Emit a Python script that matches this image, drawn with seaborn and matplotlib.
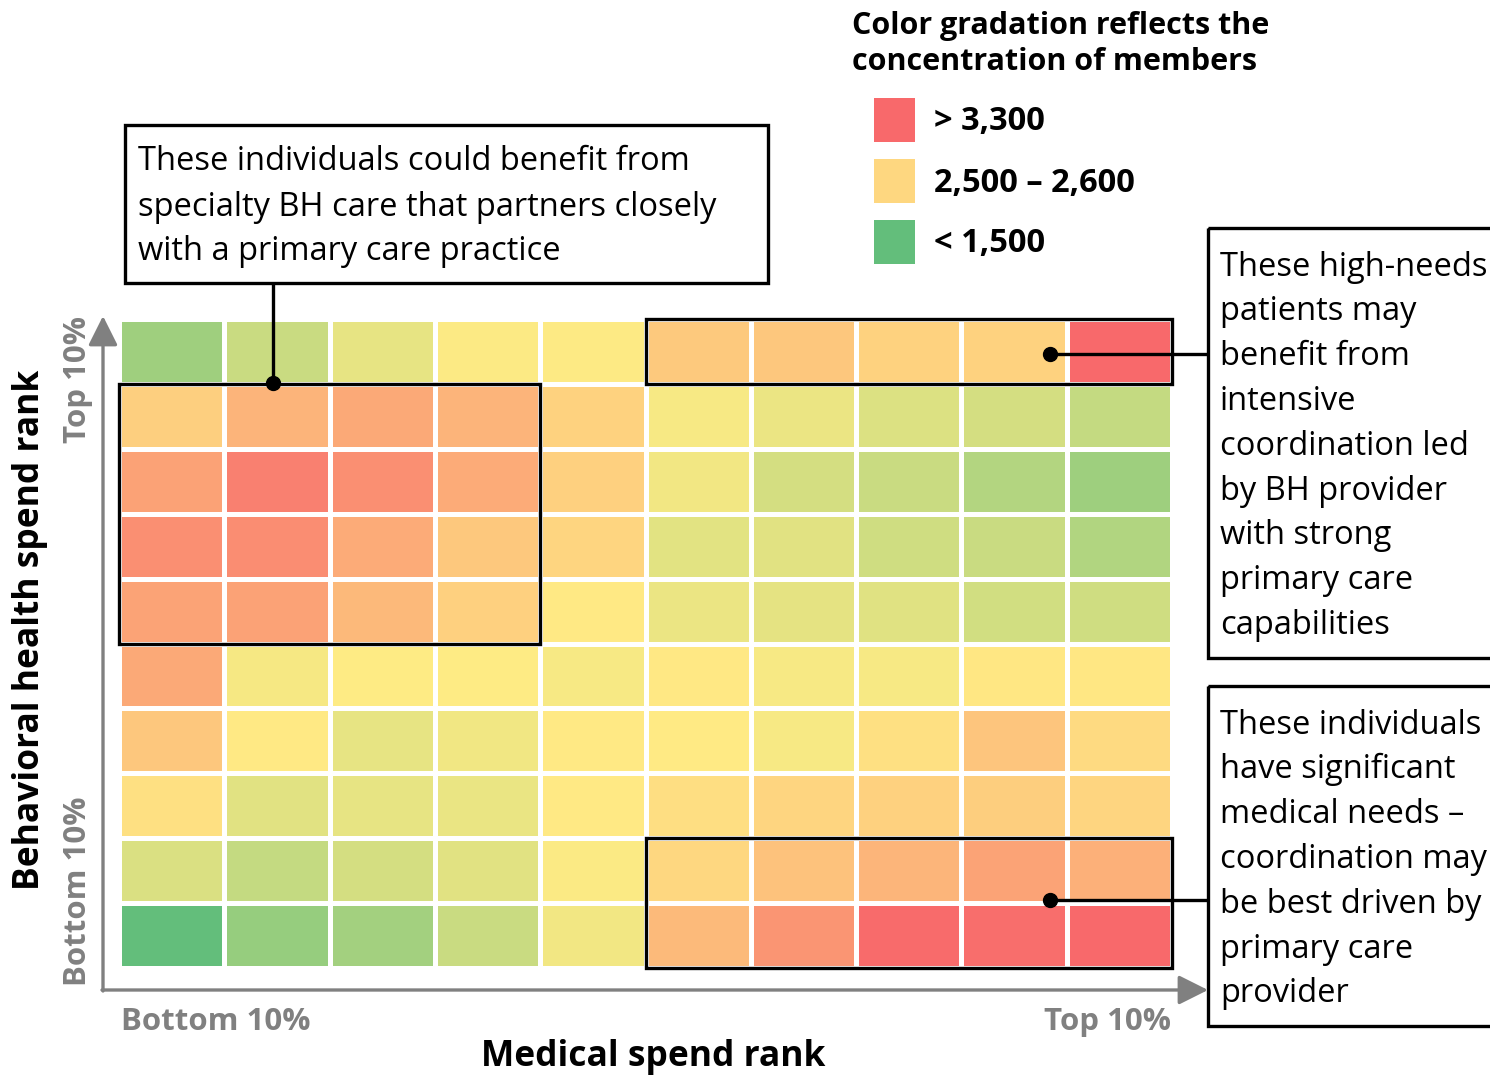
import numpy as np
import pandas as pd
import matplotlib
matplotlib.use("Agg")
import matplotlib.pyplot as plt
import seaborn as sns
from matplotlib.colors import LinearSegmentedColormap
from matplotlib.patches import Rectangle

# Member counts per cell: rows = behavioral health spend decile (top first),
# columns = medical spend decile (bottom first)
bh_deciles = ["Top 10%", "D9", "D8", "D7", "D6", "D5", "D4", "D3", "D2", "Bottom 10%"]
med_deciles = ["Bottom 10%", "D2", "D3", "D4", "D5", "D6", "D7", "D8", "D9", "Top 10%"]

row_top = [1790, 2050, 2250, 2380, 2390, 2660, 2680, 2590, 2590, 3400]
row_9 = [2615, 2820, 2900, 2820, 2590, 2350, 2270, 2180, 2120, 2020]
row_8 = [2960, 3215, 3110, 2890, 2610, 2320, 2120, 2050, 1910, 1780]
row_7 = [3110, 3120, 2890, 2670, 2570, 2220, 2210, 2090, 2050, 1900]
row_6 = [2950, 2955, 2790, 2610, 2410, 2270, 2230, 2200, 2110, 2090]
row_5 = [2900, 2340, 2395, 2395, 2350, 2420, 2350, 2350, 2430, 2430]
row_4 = [2680, 2410, 2250, 2310, 2410, 2400, 2350, 2485, 2690, 2530]
row_3 = [2480, 2210, 2250, 2260, 2410, 2500, 2570, 2600, 2620, 2570]
row_2 = [2160, 2020, 2120, 2210, 2370, 2550, 2720, 2810, 2950, 2850]
row_bottom = [1400, 1730, 1810, 2050, 2320, 2780, 3060, 3380, 3360, 3400]

legend_labels = ["> 3,300", "2,500 \u2013 2,600", "< 1,500"]
legend_values = [3400, 2550, 1400]

grid = pd.DataFrame(
    [row_top, row_9, row_8, row_7, row_6, row_5, row_4, row_3, row_2, row_bottom],
    index=bh_deciles, columns=med_deciles,
)

cmap = LinearSegmentedColormap.from_list(
    "gyr", [(0.0, "#63BE7B"), (0.5, "#FFEB84"), (1.0, "#F8696B")]
)
vmin, vmax = 1400, 3400

W, H = 1490, 1076
fig = plt.figure(figsize=(W / 100, H / 100), dpi=100)
fig.patch.set_facecolor("white")

font = "Open Sans"
GRAY = "#808080"


def fx(px):
    return px / W


def fy(py):
    return 1 - py / H


# heatmap area
hx0, hx1, hy0, hy1 = 119, 1172, 319, 968
ax = fig.add_axes([fx(hx0), fy(hy1), fx(hx1) - fx(hx0), fy(hy0) - fy(hy1)])
sns.heatmap(grid, ax=ax, cmap=cmap, vmin=vmin, vmax=vmax, cbar=False,
            linewidths=3.6, linecolor="white", square=False)
ax.set_xticks([])
ax.set_yticks([])
ax.set_xlabel("")
ax.set_ylabel("")
for s in ax.spines.values():
    s.set_visible(False)

# highlighted cell groups
box_kw = dict(fill=False, edgecolor="black", linewidth=2.4, clip_on=False, zorder=5)
ax.add_patch(Rectangle((0, 1), 4, 4, **box_kw))
ax.add_patch(Rectangle((5, 0), 5, 1, **box_kw))
ax.add_patch(Rectangle((5, 8), 5, 2, **box_kw))

# overlay in pixel coordinates for callouts, arrows and labels
ov = fig.add_axes([0, 0, 1, 1])
ov.set_xlim(0, W)
ov.set_ylim(H, 0)
ov.axis("off")
ov.patch.set_alpha(0)

# axis arrows
arrow_kw = dict(arrowstyle="-|>,head_length=0.9,head_width=0.45", color=GRAY,
                lw=2.4, mutation_scale=20, shrinkA=0, shrinkB=0)
ov.annotate("", xy=(103, 316), xytext=(103, 991), arrowprops=arrow_kw)
ov.annotate("", xy=(1208, 990), xytext=(102, 990), arrowprops=arrow_kw)

# axis labels
tick_fs = 22.5
ov.text(121, 1022, "Bottom 10%", ha="left", va="center", color=GRAY,
        fontsize=tick_fs, fontweight="bold", family=font)
ov.text(1171, 1022, "Top 10%", ha="right", va="center", color=GRAY,
        fontsize=tick_fs, fontweight="bold", family=font)
ov.text(78, 443, "Top 10%", ha="left", va="center", color=GRAY, rotation=90,
        fontsize=tick_fs, fontweight="bold", family=font, rotation_mode="anchor")
ov.text(78, 986, "Bottom 10%", ha="left", va="center", color=GRAY, rotation=90,
        fontsize=tick_fs, fontweight="bold", family=font, rotation_mode="anchor")
ov.text(653, 1057, "Medical spend rank", ha="center", va="center", color="black",
        fontsize=25.5, fontweight="bold", family=font)
ov.text(30, 630, "Behavioral health spend rank", ha="center", va="center",
        color="black", rotation=90, fontsize=25.5, fontweight="bold", family=font)

# legend
ov.text(852, 26, "Color gradation reflects the", ha="left", va="center",
        fontsize=22, fontweight="bold", family=font)
ov.text(852, 62, "concentration of members", ha="left", va="center",
        fontsize=22, fontweight="bold", family=font)
for i, (lab, val) in enumerate(zip(legend_labels, legend_values)):
    yc = 120 + i * 61
    ov.add_patch(Rectangle((874, yc - 22), 41, 44, facecolor=cmap((val - vmin) / (vmax - vmin)),
                           edgecolor="none"))
    ov.text(934, yc + 2, lab, ha="left", va="center", fontsize=23.5, fontweight="bold",
            family=font)

# callout boxes
txt_fs = 23.5
line_kw = dict(color="black", lw=2.4, solid_capstyle="butt")
ov.add_patch(Rectangle((125, 125), 643, 158, fill=False, edgecolor="black", lw=2.4))
for i, t in enumerate(["These individuals could benefit from",
                       "specialty BH care that partners closely",
                       "with a primary care practice"]):
    ov.text(138, 162 + i * 45, t, ha="left", va="center", fontsize=txt_fs, family=font)
ov.plot([273, 273], [283, 383], **line_kw)
ov.plot([273], [383], "o", color="black", ms=10)

ov.add_patch(Rectangle((1208, 228), 300, 430, fill=False, edgecolor="black", lw=2.4,
                       clip_on=True))
for i, t in enumerate(["These high-needs", "patients may", "benefit from", "intensive",
                       "coordination led", "by BH provider", "with strong",
                       "primary care", "capabilities"]):
    ov.text(1220, 267 + i * 44.8, t, ha="left", va="center", fontsize=txt_fs, family=font)
ov.plot([1050, 1208], [354, 354], **line_kw)
ov.plot([1050], [354], "o", color="black", ms=10)

ov.add_patch(Rectangle((1208, 686), 300, 340, fill=False, edgecolor="black", lw=2.4,
                       clip_on=True))
for i, t in enumerate(["These individuals", "have significant", "medical needs \u2013",
                       "coordination may", "be best driven by", "primary care",
                       "provider"]):
    ov.text(1220, 725 + i * 44.8, t, ha="left", va="center", fontsize=txt_fs, family=font)
ov.plot([1050, 1208], [900, 900], **line_kw)
ov.plot([1050], [900], "o", color="black", ms=10)

fig.savefig("out.png", dpi=100, facecolor="white")
